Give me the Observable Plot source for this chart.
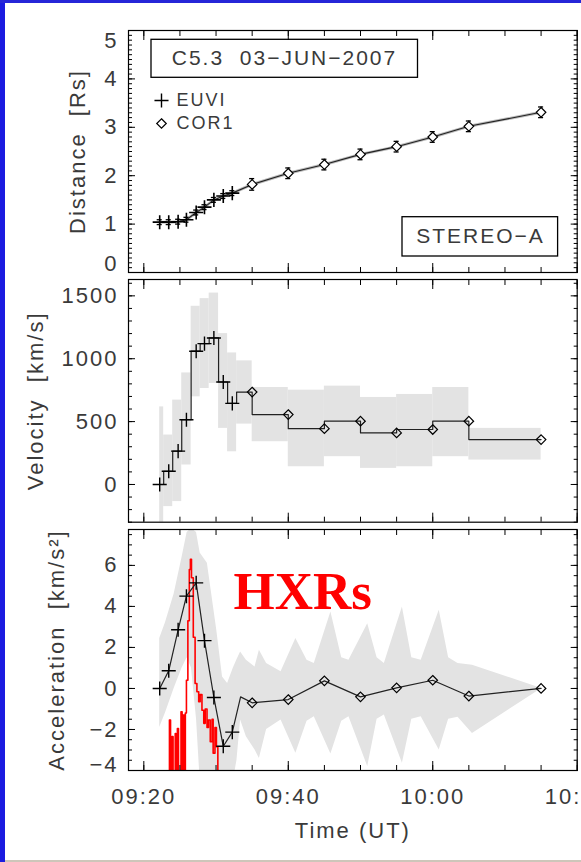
<!DOCTYPE html>
<html><head><meta charset="utf-8">
<script src="https://cdn.jsdelivr.net/npm/d3@7"></script>
<script src="https://cdn.jsdelivr.net/npm/@observablehq/plot@0.6"></script>
<style>
html,body{margin:0;padding:0;background:#fff;}
#page{position:relative;width:581px;height:862px;overflow:hidden;background:#fff;}
.panel{position:absolute;left:0;}
#bl{position:absolute;left:0;top:0;width:5px;height:862px;background:#1b1be0;}
#bt{position:absolute;left:0;top:0;width:581px;height:3px;background:#2626d8;}
#bb{position:absolute;left:5px;top:860px;width:576px;height:2px;background:#cdc6ba;}
</style></head><body><div id="page"><div id="bl"></div><div id="bt"></div><div id="bb"></div></div>
<script>
// ---------- DATA (time in minutes after 09:00 UT) ----------
const euviTime = [22.2, 23.45, 24.75, 25.9, 27.25, 28.4, 29.7, 31.0, 32.25];
const cor1Time = [35, 40, 45, 50, 55, 60, 65, 75];

const euviDist = [1.04, 1.04, 1.05, 1.09, 1.24, 1.35, 1.50, 1.58, 1.64];
const euviDistErr = [0.05, 0.05, 0.05, 0.05, 0.05, 0.05, 0.05, 0.05, 0.05];
const cor1Dist = [1.82, 2.05, 2.23, 2.44, 2.60, 2.80, 3.02, 3.31];
const cor1DistErr = [0.12, 0.11, 0.11, 0.11, 0.11, 0.11, 0.11, 0.11];

const euviVel = [0, 105, 265, 515, 1060, 1120, 1165, 815, 645];
const cor1Vel = [735, 556, 444, 503, 410, 437, 503, 357];
// velocity steps: interval start/end for each point, and the uncertainty range
const velStepStart = [22.2, 22.75, 24.0, 25.25, 26.55, 27.8, 29.05, 30.35, 31.6, 32.85, 35, 40, 45, 50, 55, 60, 65];
const velStepEnd   = [22.75, 24.0, 25.25, 26.55, 27.8, 29.05, 30.35, 31.6, 32.85, 35, 40, 45, 50, 55, 60, 65, 75];
const velLow  = [-620, -176, -136, 155, 697, 763, 803, 446, 260, 480, 340, 141, 221, 128, 141, 221, 194];
const velHigh = [617, 393, 671, 887, 1417, 1478, 1522, 1200, 1046, 983, 771, 750, 782, 692, 716, 771, 446];

const euviAcc = [0, 0.86, 2.86, 4.5, 5.15, 2.33, -0.44, -2.82, -2.13];
const cor1Acc = [-0.70, -0.54, 0.37, -0.41, 0.03, 0.40, -0.37, 0.0];
const accJoinTime = [33.4];
const accJoin = [-0.41];
// acceleration uncertainty envelope
const accBandTime = [22.2, 23.0, 24.2, 25.3, 26.0, 26.6, 27.3, 27.8, 28.8, 30.1, 30.9, 31.6, 32.4, 32.9, 33.4, 34.2, 35.4, 36.0, 37.0, 39.0, 41.05, 42.6, 43.6, 45.9, 47.4, 48.4, 51.0, 52.3, 53.3, 55.8, 57.1, 58.4, 60.9, 62.2, 63.5, 65.5, 75.1];
const accBandHigh = [2.43, 3.2, 4.6, 6.4, 7.6, 7.8, 7.6, 6.6, 6.1, 2.84, 0.56, 0.24, 1.0, 1.4, 1.78, 1.38, 1.05, 1.86, 1.22, 0.81, 2.43, 1.38, 1.22, 3.73, 1.5, 1.38, 3.16, 1.5, 1.22, 3.97, 1.5, 1.38, 3.81, 1.5, 1.22, 1.13, 0];
const accBandLow  = [-1.9, -1.2, 0.0, 1.0, 1.5, 1.0, -1.5, -4.5, -4.5, -4.5, -4.5, -4.5, -4.5, -3.5, -1.54, -2.35, -3.0, -3.41, -2.0, -1.54, -3.16, -1.6, -1.38, -3.2, -1.6, -1.38, -3.81, -1.5, -1.30, -3.65, -1.5, -1.38, -3.0, -1.5, -1.4, -2.19, 0];

// HXR count rate (scaled to the acceleration axis), step histogram
const hxrTime = [22.9, 23.55, 23.7, 23.9, 24.05, 24.35, 24.45, 24.65, 24.8, 25.15, 25.3, 25.45, 25.6, 25.75, 25.9, 26.1, 26.3, 26.45, 26.6, 26.85, 27.1, 27.35, 27.6, 27.8, 28.05, 28.3, 28.5, 28.75, 28.95, 29.2, 29.45, 29.6, 29.85, 30.05, 30.25, 30.45];
const hxrRate = [-6, -1.54, -6, -2.35, -6, -2.2, -6, -1.95, -6, -1.14, -6, -1.3, -6, -1.2, 0.4, 3.3, 5.8, 6.3, 5.4, 2.5, 0.24, -0.16, -0.65, -0.3, -1.06, -1.7, -1.0, -1.9, -1.54, -2.6, -1.5, -3.16, -1.9, -2.84, -6, -6];

const xMajorTicks = [20, 40, 60, 80];
const xMinorTicks = [20, 25, 30, 35, 40, 45, 50, 55, 60, 65, 70, 75, 80];
const xTickLabels = ["09:20", "09:40", "10:00", "10:20"];

// ---------- LAYOUT ----------
const FONT = "'Liberation Sans', Arial, Helvetica, sans-serif";
const W = 581, ML = 128, MR = 4.3;
const X_DOMAIN = [17.88, 80];
const TXT = "#3a3a3a";
const BAND = "#e3e3e3";

function frameMarks(yMajor, yMinor, yFmt, edgeShift) {
  const inner = yMajor.slice(1, -1);
  const lo = yMajor[0], hi = yMajor[yMajor.length - 1];
  const lab = {anchor: "left", tickSize: 0, tickPadding: 10, tickFormat: yFmt, fontSize: 22, fill: TXT, label: null};
  return [
    Plot.axisY(yMajor, {anchor: "left", tickSize: -7, fill: "none", label: null}),
    Plot.axisY(yMinor, {anchor: "left", tickSize: -4, fill: "none", label: null}),
    Plot.axisY(yMajor, {anchor: "right", tickSize: -7, fill: "none", label: null}),
    Plot.axisY(yMinor, {anchor: "right", tickSize: -4, fill: "none", label: null}),
    Plot.axisX(xMajorTicks, {anchor: "bottom", tickSize: -9, fill: "none", label: null}),
    Plot.axisX(xMinorTicks, {anchor: "bottom", tickSize: -5, fill: "none", label: null}),
    Plot.axisX(xMajorTicks, {anchor: "top", tickSize: -9, fill: "none", label: null}),
    Plot.axisX(xMinorTicks, {anchor: "top", tickSize: -5, fill: "none", label: null}),
    Plot.axisY(inner, lab),
    Plot.axisY([lo], {...lab, dy: -edgeShift[0]}),
    Plot.axisY([hi], {...lab, dy: edgeShift[1]}),
    Plot.frame({stroke: "#000", strokeWidth: 1.2})
  ];
}

function place(svg, top) {
  svg.classList.add("panel");
  svg.style.top = top + "px";
  svg.style.fontFamily = FONT;
  svg.style.letterSpacing = "2px";
  svg.style.overflow = "hidden";
  document.getElementById("page").insertBefore(svg, document.getElementById("bl"));
  return svg;
}

function box(svg, x1, y1, x2, y2) {
  d3.select(svg).append("rect").attr("x", x1).attr("y", y1).attr("width", x2 - x1).attr("height", y2 - y1)
    .attr("fill", "none").attr("stroke", "#000").attr("stroke-width", 1.3);
}

const T = {textAnchor: "middle", lineAnchor: "middle", fill: TXT};

// ---------- PANEL 1: DISTANCE ----------
const euviD = euviTime.map((t, i) => ({t, d: euviDist[i], e: euviDistErr[i]}));
const cor1D = cor1Time.map((t, i) => ({t, d: cor1Dist[i], e: cor1DistErr[i]}));
const allD = euviD.concat(cor1D);

const p1 = Plot.plot({
  width: W, height: 276, marginLeft: ML, marginRight: MR, marginTop: 30, marginBottom: 4,
  x: {domain: X_DOMAIN, axis: null},
  y: {domain: [0, 5], axis: null},
  marks: [
    Plot.line(allD, {x: "t", y: "d", stroke: "#bbb", strokeWidth: 3}),
    Plot.line(allD, {x: "t", y: "d", stroke: "#222", strokeWidth: 1.1}),
    Plot.ruleX(allD, {x: "t", y1: d => d.d - d.e, y2: d => d.d + d.e, stroke: "#000", strokeWidth: 1.3}),
    Plot.ruleY(allD, {y: d => d.d - d.e, x1: d => d.t - 0.35, x2: d => d.t + 0.35, stroke: "#000", strokeWidth: 1.3}),
    Plot.ruleY(allD, {y: d => d.d + d.e, x1: d => d.t - 0.35, x2: d => d.t + 0.35, stroke: "#000", strokeWidth: 1.3}),
    Plot.dot(euviD, {x: "t", y: "d", symbol: "plus", r: 4.6, stroke: "#000", strokeWidth: 1.6}),
    Plot.dot(cor1D, {x: "t", y: "d", symbol: "diamond2", r: 4.3, stroke: "#000", fill: "white", strokeWidth: 1.2}),
    // legend
    Plot.dot([0], {frameAnchor: "top-left", dx: 33, dy: 70, symbol: "plus", r: 4.6, stroke: "#000", strokeWidth: 1.4}),
    Plot.dot([0], {frameAnchor: "top-left", dx: 33, dy: 93, symbol: "diamond2", r: 4.3, stroke: "#000", strokeWidth: 1.2}),
    Plot.text(["EUVI"], {...T, frameAnchor: "top-left", dx: 48, dy: 70, textAnchor: "start", fontSize: 18}),
    Plot.text(["COR1"], {...T, frameAnchor: "top-left", dx: 48, dy: 93, textAnchor: "start", fontSize: 18}),
    Plot.text(["C5.3  03\u2212JUN\u22122007"], {...T, frameAnchor: "top-left", dx: 156, dy: 28, fontSize: 21}),
    Plot.text(["STEREO\u2212A"], {...T, frameAnchor: "top-left", dx: 352, dy: 206, fontSize: 21}),
    Plot.text(["Distance  [Rs]"], {...T, frameAnchor: "left", dx: -51, rotate: -90, fontSize: 22}),
    ...frameMarks([0, 1, 2, 3, 4, 5], d3.range(0, 5.0001, 0.1), d3.format("d"), [9, 10])
  ]
});
place(p1, 0);
box(p1, 151, 39.3, 417.5, 77.3);
box(p1, 402, 216.7, 557.6, 256);

// ---------- PANEL 2: VELOCITY ----------
const velBand = velStepStart.map((s, i) => ({s, e: velStepEnd[i], lo: velLow[i], hi: velHigh[i]}));
const velAll = euviVel.concat(cor1Vel);
const velLine = velStepStart.flatMap((s, i) => [{t: s, v: velAll[i]}, {t: velStepEnd[i], v: velAll[i]}]);
const euviV = euviTime.map((t, i) => ({t, v: euviVel[i]}));
const cor1V = cor1Time.map((t, i) => ({t, v: cor1Vel[i]}));

const p2 = Plot.plot({
  width: W, height: 249, marginLeft: ML, marginRight: MR, marginTop: 3, marginBottom: 3.3,
  x: {domain: X_DOMAIN, axis: null},
  y: {domain: [-300, 1630], axis: null},
  marks: [
    Plot.rect(velBand, {x1: "s", x2: "e", y1: "lo", y2: "hi", fill: BAND, clip: true}),
    Plot.line(velLine, {x: "t", y: "v", stroke: "#222", strokeWidth: 1.2}),
    Plot.dot(euviV, {x: "t", y: "v", symbol: "plus", r: 4.6, stroke: "#000", strokeWidth: 1.4}),
    Plot.dot(cor1V, {x: "t", y: "v", symbol: "diamond2", r: 4.3, stroke: "#000", fill: "none", strokeWidth: 1.2}),
    Plot.text(["Velocity  [km/s]"], {...T, frameAnchor: "left", dx: -93, rotate: -90, fontSize: 22}),
    ...frameMarks([0, 500, 1000, 1500], d3.range(-300, 1601, 100), d3.format("d"), [0, 0])
  ]
});
place(p2, 276);

// ---------- PANEL 3: ACCELERATION ----------
const accBand = accBandTime.map((t, i) => ({t, lo: accBandLow[i], hi: accBandHigh[i]}));
const euviA = euviTime.map((t, i) => ({t, a: euviAcc[i]}));
const cor1A = cor1Time.map((t, i) => ({t, a: cor1Acc[i]}));
const accLine = euviA.concat(accJoinTime.map((t, i) => ({t, a: accJoin[i]})), cor1A);
const hxr = hxrTime.map((t, i) => ({t, r: hxrRate[i]}));

const p3 = Plot.plot({
  width: W, height: 337, marginLeft: ML, marginRight: MR, marginTop: 4, marginBottom: 92,
  x: {domain: X_DOMAIN, axis: null},
  y: {domain: [-4, 7.75], axis: null},
  marks: [
    Plot.areaY(accBand, {x: "t", y1: "lo", y2: "hi", fill: BAND, clip: true}),
    Plot.line(hxr, {x: "t", y: "r", curve: "step-after", stroke: "#ff0000", strokeWidth: 1.6, clip: true}),
    Plot.line(accLine, {x: "t", y: "a", stroke: "#222", strokeWidth: 1.2}),
    Plot.dot(euviA, {x: "t", y: "a", symbol: "plus", r: 4.6, stroke: "#000", strokeWidth: 1.4}),
    Plot.dot(cor1A, {x: "t", y: "a", symbol: "diamond2", r: 4.3, stroke: "#000", fill: "none", strokeWidth: 1.2}),
    Plot.text(["HXRs"], {frameAnchor: "top-left", dx: 105, dy: 63, textAnchor: "start", lineAnchor: "middle", fontSize: 53, fontWeight: "bold", fontFamily: "'Liberation Serif', 'DejaVu Serif', serif", fill: "#ff0000"}),
    Plot.text(["Acceleration  [km/s\u00b2]"], {...T, frameAnchor: "left", dx: -72, rotate: -90, fontSize: 22}),
    Plot.axisX(xMajorTicks, {anchor: "bottom", tickSize: 0, tickPadding: 18, tickFormat: (d, i) => xTickLabels[i], fontSize: 22, fill: TXT, label: null}),
    Plot.text(["Time (UT)"], {...T, frameAnchor: "bottom", dy: 60, fontSize: 22}),
    ...frameMarks([-4, -2, 0, 2, 4, 6], d3.range(-4, 7.5001, 0.5), d3.format("d"), [6, 0])
  ]
});
place(p3, 525);
d3.select(p3).selectAll("text").filter(function() { return this.textContent === "HXRs"; }).style("letter-spacing", "0px");
</script>
</body></html>
